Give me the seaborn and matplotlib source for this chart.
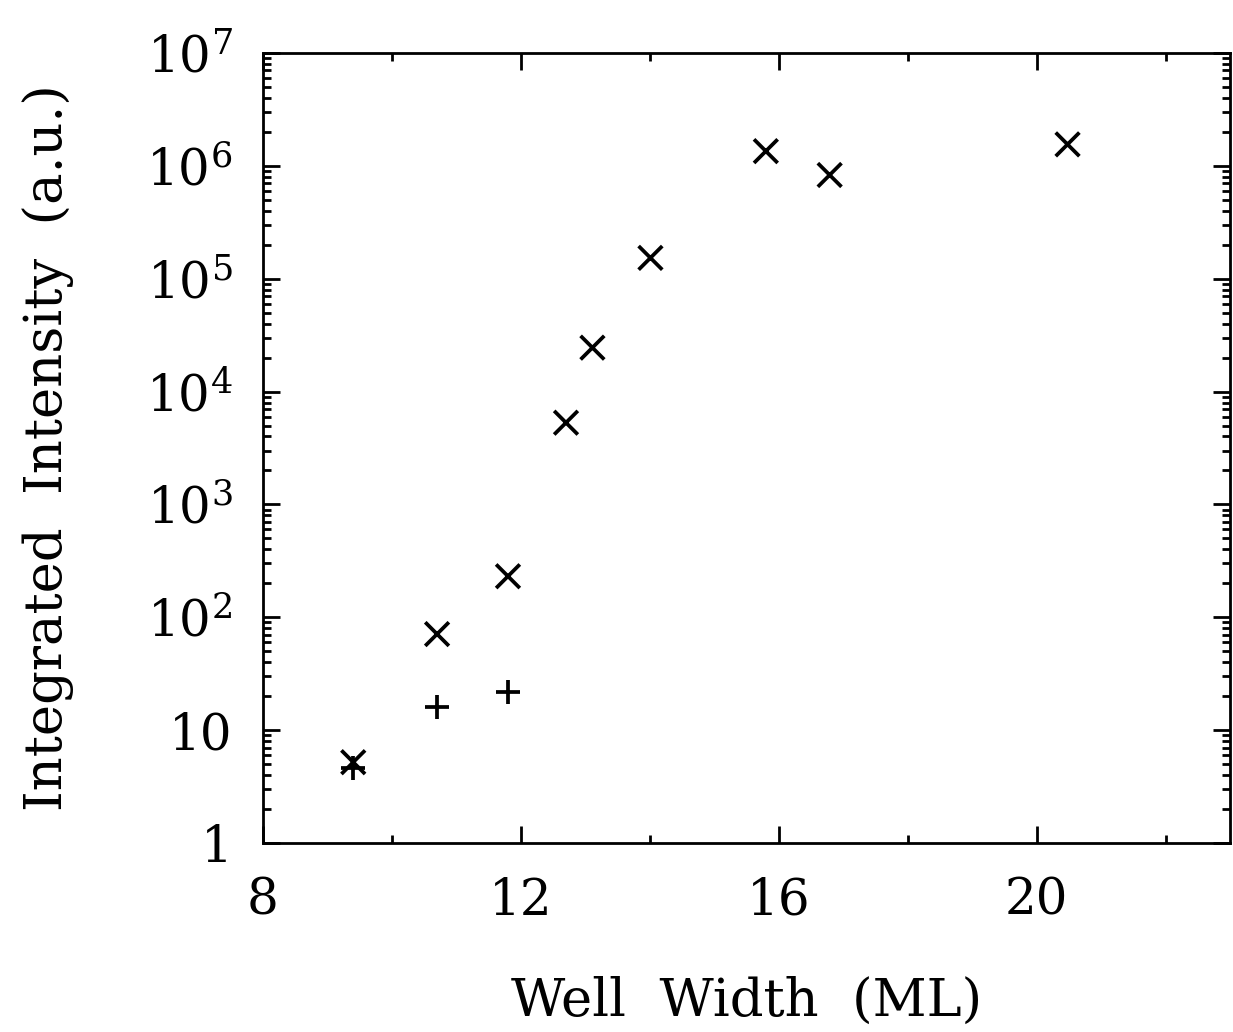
import numpy as np
import pandas as pd
import matplotlib
matplotlib.use("Agg")
import matplotlib.pyplot as plt
import matplotlib.ticker as mticker
import seaborn as sns

# Integrated PL intensity versus quantum-well width
width_x = [9.40, 10.70, 11.80, 12.70, 13.11, 14.01, 15.80, 16.79, 20.48]
intensity_x = [5.2, 71, 231, 5300, 24500, 153000, 1.35e6, 8.3e5, 1.55e6]

width_plus = [9.40, 10.70, 11.80]
intensity_plus = [4.6, 16, 21.7]

x_ticks = [8, 12, 16, 20]
x_minor = [10, 14, 18, 22]
y_ticks = [1, 10, 1e2, 1e3, 1e4, 1e5, 1e6, 1e7]
y_labels = ["1", "10", r"$10^2$", r"$10^3$", r"$10^4$", r"$10^5$", r"$10^6$", r"$10^7$"]

df = pd.DataFrame({
    "width": width_x + width_plus,
    "intensity": intensity_x + intensity_plus,
    "set": ["x"] * len(width_x) + ["+"] * len(width_plus),
})

sns.set_theme(style="ticks")
plt.rcParams["font.family"] = ["DejaVu Serif"]
plt.rcParams["mathtext.fontset"] = "dejavuserif"
plt.rcParams["text.color"] = "black"
plt.rcParams["axes.labelcolor"] = "black"
plt.rcParams["xtick.color"] = "black"
plt.rcParams["ytick.color"] = "black"

fig = plt.figure(figsize=(12.33, 10.32), dpi=100)
ax = fig.add_axes([263 / 1233, 1 - 843 / 1032, (1230 - 263) / 1233, (843 - 53) / 1032])

sns.scatterplot(data=df, x="width", y="intensity", style="set",
                markers={"x": "x", "+": "+"}, color="black",
                s=290, linewidth=2.7, legend=False, ax=ax)

ax.set_yscale("log")
ax.set_xlim(8, 23)
ax.set_ylim(1, 1e7)

ax.set_xticks(x_ticks)
ax.set_xticklabels([str(t) for t in x_ticks])
ax.xaxis.set_minor_locator(mticker.FixedLocator(x_minor))
ax.set_yticks(y_ticks)
ax.set_yticklabels(y_labels)
ax.yaxis.set_minor_locator(mticker.LogLocator(base=10, subs=np.arange(2, 10), numticks=20))
ax.yaxis.set_minor_formatter(mticker.NullFormatter())

ax.tick_params(which="both", direction="in", top=True, right=True, width=2,
               color="black", labelcolor="black")
ax.tick_params(which="major", length=12)
ax.tick_params(which="minor", length=6)
ax.tick_params(axis="x", which="major", labelsize=36, pad=24)
ax.tick_params(axis="y", which="major", labelsize=36, pad=22)

for sp in ax.spines.values():
    sp.set_linewidth(2)
    sp.set_color("black")

ax.set_xlabel("Well  Width  (ML)", fontsize=38, labelpad=36, color="black")
ax.set_ylabel("Integrated  Intensity  (a.u.)", fontsize=38, labelpad=52, color="black")
ax.set(facecolor="white")
fig.patch.set_facecolor("white")

fig.savefig("out.png", dpi=100, facecolor="white")
